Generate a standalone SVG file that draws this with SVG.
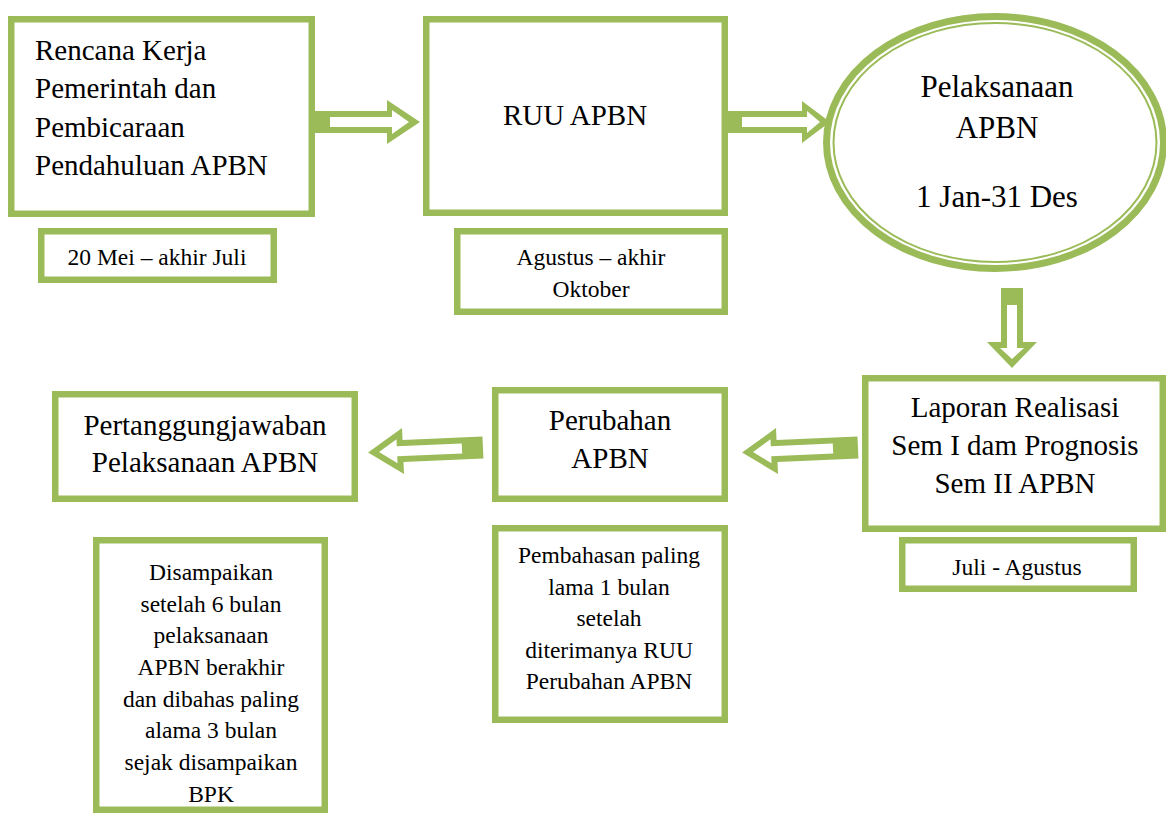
<svg xmlns="http://www.w3.org/2000/svg" width="1166" height="813" viewBox="0 0 1166 813">
<style>
.box{fill:#fff;stroke:#9BBB59;stroke-width:6.5}
.t{font-family:"Liberation Serif","Times New Roman",serif;fill:#000;font-size:29px}
.s{font-family:"Liberation Serif","Times New Roman",serif;fill:#000;font-size:23.5px}
.c{text-anchor:middle}
.ag{fill:#9BBB59}
.aw{fill:#fff}
</style>
<rect width="1166" height="813" fill="#fff"/>
<g id="connectors">
<g id="arrow-1">
<polygon class="ag" points="313,111 387,111 387,100 420,122 387,144 387,133 313,133"/>
<polygon class="aw" points="330,117 392,117 392,110 409,122 392,134 392,127 330,127"/>
</g>
<g id="arrow-2">
<polygon class="ag" points="725,111 802,111 802,101 830,122 802,143 802,133 725,133"/>
<polygon class="aw" points="742,117 807,117 807,111 820,122 807,133 807,127 742,127"/>
</g>
<g id="arrow-3">
<polygon class="ag" points="1001,288 1023,288 1023,342 1037,342 1012,368 987,342 1001,342"/>
<polygon class="aw" points="1007,305 1017,305 1017,348 1024,348 1012,359 1000,348 1007,348"/>
</g>
<g id="arrow-4" transform="rotate(-2.5 800 450)">
<polygon class="ag" points="858,439 777,439 777,427 742,450 777,473 777,461 858,461"/>
<polygon class="aw" points="833,445 771,445 771,438 753,450 771,462 771,455 833,455"/>
</g>
<g id="arrow-5" transform="rotate(-2.5 425 450)">
<polygon class="ag" points="483,439 403,439 403,427 368,450 403,473 403,461 483,461"/>
<polygon class="aw" points="462,445 397,445 397,438 379,450 397,462 397,455 462,455"/>
</g>
</g>
<g id="rencana">
<rect class="box" x="11.25" y="19.25" width="300.5" height="194.5"/>
<text class="t" x="35" y="60">Rencana Kerja</text>
<text class="t" x="35" y="98">Pemerintah dan</text>
<text class="t" x="35" y="137">Pembicaraan</text>
<text class="t" x="35" y="175">Pendahuluan APBN</text>
</g>
<g id="rencana-time">
<rect class="box" x="41.25" y="231.25" width="232.5" height="48.5"/>
<text class="s c" x="157" y="265">20 Mei – akhir Juli</text>
</g>
<g id="ruu">
<rect class="box" x="426.25" y="19.25" width="298.5" height="193.5"/>
<text class="t c" x="575" y="125">RUU APBN</text>
</g>
<g id="ruu-time">
<rect class="box" x="457.25" y="231.25" width="267.5" height="80.5"/>
<text class="s c" x="591" y="265">Agustus – akhir</text>
<text class="s c" x="591" y="297">Oktober</text>
</g>
<g id="pelaksanaan">
<ellipse cx="995" cy="142.5" rx="168.5" ry="126" fill="#fff" stroke="#9BBB59" stroke-width="7"/>
<ellipse cx="995" cy="142.5" rx="161.5" ry="119.5" fill="none" stroke="#9BBB59" stroke-width="2"/>
<text class="c" x="997" y="97" font-family="Liberation Serif, Times New Roman, serif" font-size="31">Pelaksanaan</text>
<text class="c" x="997" y="138" font-family="Liberation Serif, Times New Roman, serif" font-size="31">APBN</text>
<text class="c" x="997" y="207" font-family="Liberation Serif, Times New Roman, serif" font-size="31">1 Jan-31 Des</text>
</g>
<g id="laporan">
<rect class="box" x="865.25" y="378.25" width="297.5" height="150.5"/>
<text class="t c" x="1015" y="417">Laporan Realisasi</text>
<text class="t c" x="1015" y="455">Sem I dam Prognosis</text>
<text class="t c" x="1015" y="493">Sem II APBN</text>
</g>
<g id="laporan-time">
<rect class="box" x="902.25" y="540.25" width="231.5" height="48.5"/>
<text class="s c" x="1017" y="575">Juli - Agustus</text>
</g>
<g id="perubahan">
<rect class="box" x="495.25" y="390.25" width="229.5" height="108.5"/>
<text class="t c" x="610" y="430">Perubahan</text>
<text class="t c" x="610" y="468">APBN</text>
</g>
<g id="perubahan-note">
<rect class="box" x="495.25" y="528.25" width="229.5" height="191.5"/>
<text class="s c" x="609" y="563">Pembahasan paling</text>
<text class="s c" x="609" y="594.5">lama 1 bulan</text>
<text class="s c" x="609" y="626">setelah</text>
<text class="s c" x="609" y="657.5">diterimanya RUU</text>
<text class="s c" x="609" y="689">Perubahan APBN</text>
</g>
<g id="pertanggungjawaban">
<rect class="box" x="55.25" y="394.25" width="299.5" height="104.5"/>
<text class="t c" x="205" y="435">Pertanggungjawaban</text>
<text class="t c" x="205" y="472">Pelaksanaan APBN</text>
</g>
<g id="pertanggungjawaban-note">
<rect class="box" x="96.25" y="540.25" width="228.5" height="269.5"/>
<text class="s c" x="211" y="580">Disampaikan</text>
<text class="s c" x="211" y="612">setelah 6 bulan</text>
<text class="s c" x="211" y="643">pelaksanaan</text>
<text class="s c" x="211" y="675">APBN berakhir</text>
<text class="s c" x="211" y="707">dan dibahas paling</text>
<text class="s c" x="211" y="738">alama 3 bulan</text>
<text class="s c" x="211" y="770">sejak disampaikan</text>
<text class="s c" x="211" y="802">BPK</text>
</g>
</svg>
